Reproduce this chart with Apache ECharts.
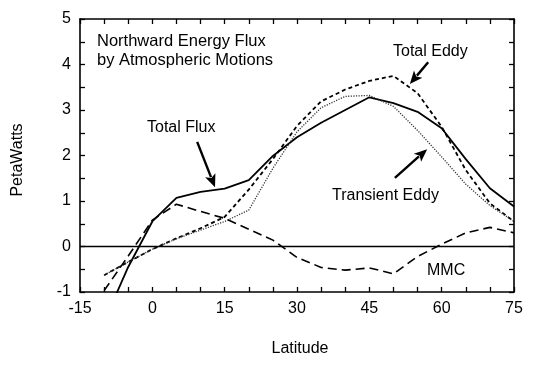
<!DOCTYPE html>
<html>
<head>
<meta charset="utf-8">
<script src="https://cdn.jsdelivr.net/npm/echarts@6/dist/echarts.min.js"></script>
<style>
html,body{margin:0;padding:0;background:#fff;}
#c{width:550px;height:368px;}
</style>
</head>
<body>
<div id="c"></div>
<script>
// Data (latitude in degrees, flux in PetaWatts)
const latitudes     = [-10, -5, 0, 5, 10, 15, 20, 25, 30, 35, 40, 45, 50, 55, 60, 65, 70, 75];
const totalFlux     = [-1.65, -0.45, 0.55, 1.07, 1.2, 1.27, 1.46, 1.99, 2.4, 2.72, 3.0, 3.28, 3.15, 2.96, 2.6, 1.92, 1.28, 0.88];
const totalEddy     = [-0.63, -0.34, -0.06, 0.18, 0.4, 0.65, 1.25, 1.92, 2.65, 3.19, 3.45, 3.64, 3.75, 3.37, 2.63, 1.68, 0.95, 0.55];
const transientEddy = [-0.63, -0.34, -0.06, 0.17, 0.36, 0.55, 0.8, 1.72, 2.52, 3.05, 3.3, 3.32, 3.08, 2.55, 1.97, 1.37, 0.9, 0.55];
const mmc           = [-0.97, -0.21, 0.58, 0.93, 0.77, 0.62, 0.38, 0.14, -0.24, -0.46, -0.52, -0.47, -0.6, -0.22, 0.05, 0.3, 0.42, 0.3];
const xTickLabels = [-15, 0, 15, 30, 45, 60, 75];
const yTickLabels = [-1, 0, 1, 2, 3, 4, 5];

const FONT = 'Liberation Sans, Arial, Helvetica, sans-serif';
const pairs = arr => latitudes.map((x, i) => [x, arr[i]]);

const chart = echarts.init(document.getElementById('c'), null, {renderer: 'canvas'});

const axisLine = {show: true, onZero: false, lineStyle: {color: '#000', width: 1.6}};
const xBase = {
  type: 'value', min: -15, max: 75, interval: 5,
  axisLine: axisLine, splitLine: {show: false},
  axisTick: {show: true, inside: true, length: 5, lineStyle: {color: '#000', width: 1.3}}
};
const yBase = {
  type: 'value', min: -1, max: 5, interval: 0.5,
  axisLine: axisLine, splitLine: {show: false},
  axisTick: {show: true, inside: true, length: 5, lineStyle: {color: '#000', width: 1.3}}
};

function lineSeries(name, arr, style) {
  return {
    name: name, type: 'line', data: pairs(arr), symbol: 'none', clip: true,
    smooth: false, lineStyle: style, silent: true, animation: false
  };
}

const series = [
  lineSeries('Total Flux', totalFlux, {color: '#000', width: 1.8, type: 'solid'}),
  lineSeries('Total Eddy', totalEddy, {color: '#000', width: 1.8, type: [4, 3]}),
  lineSeries('Transient Eddy', transientEddy, {color: '#333', width: 1.3, type: [1.2, 1.4]}),
  lineSeries('MMC', mmc, {color: '#000', width: 1.6, type: [9, 5]})
];
series[3].markLine = {
  silent: true, symbol: ['none', 'none'], label: {show: false}, animation: false,
  lineStyle: {color: '#000', width: 1.4, type: 'solid'},
  data: [{yAxis: 0}]
};

chart.setOption({
  animation: false,
  backgroundColor: '#fff',
  grid: {left: 80, right: 36, top: 19, bottom: 76, containLabel: false},
  xAxis: [
    Object.assign({}, xBase, {
      position: 'bottom',
      axisLabel: {
        show: true, margin: 9, color: '#000', fontSize: 16, fontFamily: FONT,
        formatter: v => xTickLabels.includes(v) ? String(v) : ''
      }
    }),
    Object.assign({}, xBase, {position: 'top', axisLabel: {show: false}})
  ],
  yAxis: [
    Object.assign({}, yBase, {
      position: 'left',
      axisLabel: {
        show: true, margin: 9, color: '#000', fontSize: 16, fontFamily: FONT,
        formatter: v => yTickLabels.includes(v) ? String(v) : ''
      }
    }),
    Object.assign({}, yBase, {position: 'right', axisLabel: {show: false}})
  ],
  series: series
});

function txt(text, x, y, opts) {
  opts = opts || {};
  return {
    type: 'text', x: x, y: y, rotation: opts.rotation || 0, silent: true, z: 10,
    style: {
      text: text, fill: '#000', font: (opts.size || 16) + 'px ' + FONT,
      textAlign: opts.align || 'left', align: opts.align || 'left',
      textVerticalAlign: 'middle', verticalAlign: 'middle'
    }
  };
}

// arrows defined in data coordinates [lat, PW]
const arrows = [
  {from: [9.3, 2.30], to: [13.0, 1.30]},
  {from: [57.2, 4.05], to: [53.4, 3.57]},
  {from: [50.3, 1.51], to: [57.0, 2.14]}
];

function arrowGraphics(a) {
  const p1 = chart.convertToPixel({gridIndex: 0}, a.from);
  const p2 = chart.convertToPixel({gridIndex: 0}, a.to);
  const dx = p2[0] - p1[0], dy = p2[1] - p1[1];
  const L = Math.sqrt(dx * dx + dy * dy);
  const ux = dx / L, uy = dy / L;
  const head = 13, hw = 5.5;
  const bx = p2[0] - ux * head, by = p2[1] - uy * head;
  return [
    {type: 'line', silent: true, z: 10,
     shape: {x1: p1[0], y1: p1[1], x2: bx + ux * 2, y2: by + uy * 2},
     style: {stroke: '#000', lineWidth: 2.4}},
    {type: 'polygon', silent: true, z: 10,
     shape: {points: [[p2[0], p2[1]], [bx - uy * hw, by + ux * hw], [bx + ux * 3, by + uy * 3], [bx + uy * hw, by - ux * hw]]},
     style: {fill: '#000'}}
  ];
}

let graphics = [
  txt('Northward Energy Flux', 97, 41, {size: 16.5}),
  txt('by Atmospheric Motions', 97, 60, {size: 16.5}),
  txt('Total Flux', 147, 128),
  txt('Total Eddy', 393, 52),
  txt('Transient Eddy', 332, 196),
  txt('MMC', 427, 271),
  txt('PetaWatts', 18, 160, {align: 'center', rotation: Math.PI / 2}),
  txt('Latitude', 300, 349, {align: 'center'})
];
arrows.forEach(a => { graphics = graphics.concat(arrowGraphics(a)); });

chart.setOption({graphic: {elements: graphics}});
</script>
</body>
</html>
